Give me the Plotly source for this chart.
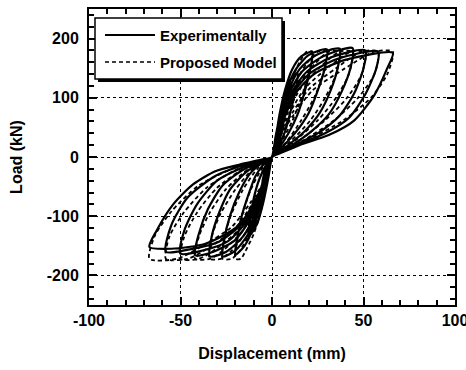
import plotly.graph_objects as go

# ---- Experimental hysteresis (displacement mm, load kN) ----
# Each cycle: loading to + peak, unloading, loading to - peak, unloading.
exp_pos_loading = [
    [(0, 0), (2, 35), (4, 65), (6, 85), (8, 95)],
    [(0, 0), (2, 35), (5, 80), (8, 115), (11, 135), (14, 142)],
    [(0, 0), (2, 30), (4, 70), (7, 112), (11, 148), (16, 170), (22, 178)],
    [(0, 0), (2, 30), (5, 70), (8, 112), (13, 148), (20, 172), (30, 182)],
    [(0, 0), (3, 30), (5, 70), (9, 112), (15, 148), (24, 172), (37, 183)],
    [(0, 0), (3, 30), (6, 70), (10, 112), (17, 146), (28, 170), (44, 184)],
    [(0, 0), (3, 30), (6, 70), (11, 110), (19, 144), (32, 168), (51, 180)],
    [(0, 0), (3, 30), (7, 70), (12, 110), (21, 142), (36, 166), (58, 178)],
    [(0, 0), (3, 28), (7, 68), (13, 108), (23, 140), (40, 164), (66, 176)],
]
exp_pos_unloading = [
    [(8, 95), (7, 70), (5, 40), (3, 18), (0, 0)],
    [(14, 142), (13, 115), (10, 75), (7, 42), (3, 15), (0, 0)],
    [(22, 178), (21, 150), (18, 112), (14, 72), (9, 40), (4, 16), (0, 0)],
    [(30, 182), (29, 152), (25, 112), (20, 74), (13, 42), (6, 18), (0, 0)],
    [(37, 183), (36, 152), (32, 112), (26, 74), (18, 44), (8, 18), (0, 0)],
    [(44, 184), (43, 152), (38, 110), (31, 72), (21, 42), (10, 18), (0, 0)],
    [(51, 180), (50, 150), (45, 108), (37, 70), (26, 42), (12, 19), (0, 0)],
    [(58, 178), (57, 150), (51, 106), (42, 66), (29, 40), (14, 20), (0, 0)],
    [(66, 176), (63, 150), (56, 105), (45, 62), (31, 37), (15, 20), (5, 7), (0, 0)],
]
exp_neg_loading = [
    [(0, 0), (-2, -35), (-4, -65), (-6, -82), (-7, -90)],
    [(0, 0), (-2, -35), (-5, -80), (-8, -112), (-11, -128), (-13, -135)],
    [(0, 0), (-3, -38), (-6, -78), (-10, -118), (-15, -150), (-20, -165)],
    [(0, 0), (-4, -45), (-8, -90), (-13, -130), (-20, -158), (-27, -168)],
    [(0, 0), (-4, -48), (-9, -95), (-16, -135), (-25, -160), (-34, -168)],
    [(0, 0), (-5, -50), (-11, -100), (-20, -140), (-32, -160), (-42, -166)],
    [(0, 0), (-5, -52), (-13, -105), (-24, -142), (-38, -158), (-50, -163)],
    [(0, 0), (-6, -55), (-15, -108), (-29, -143), (-45, -156), (-58, -160)],
    [(0, 0), (-7, -60), (-18, -115), (-36, -146), (-55, -155), (-67, -152)],
]
exp_neg_unloading = [
    [(-7, -90), (-6, -65), (-5, -38), (-3, -15), (0, 0)],
    [(-13, -135), (-12, -105), (-10, -70), (-7, -38), (-3, -12), (0, 0)],
    [(-20, -165), (-19, -140), (-17, -105), (-13, -65), (-9, -32), (-4, -10), (0, 0)],
    [(-27, -168), (-26, -138), (-23, -100), (-18, -60), (-12, -28), (-5, -9), (0, 0)],
    [(-34, -168), (-33, -135), (-29, -95), (-23, -55), (-14, -25), (-5, -8), (0, 0)],
    [(-42, -166), (-40, -130), (-35, -88), (-27, -48), (-16, -22), (-5, -7), (0, 0)],
    [(-50, -163), (-48, -125), (-41, -80), (-30, -40), (-17, -19), (-5, -6), (0, 0)],
    [(-58, -160), (-55, -115), (-46, -68), (-31, -32), (-18, -16), (-5, -5), (0, 0)],
    [(-67, -152), (-63, -124), (-54, -80), (-43, -46), (-31, -24), (-18, -13), (-5, -4), (0, 0)],
]

# ---- Proposed model hysteresis ----
mod_pos_loading = [
    [(0, 0), (3, 40), (6, 85), (10, 125), (15, 160), (19, 178), (22, 178)],
    [(0, 0), (3, 38), (7, 82), (12, 122), (19, 158), (25, 178), (30, 178)],
    [(0, 0), (3, 36), (8, 80), (14, 120), (23, 156), (31, 178), (37, 178)],
    [(0, 0), (4, 35), (9, 78), (16, 118), (27, 154), (37, 178), (44, 178)],
    [(0, 0), (4, 34), (10, 76), (18, 116), (31, 152), (43, 178), (51, 178)],
    [(0, 0), (4, 33), (11, 74), (20, 114), (35, 150), (49, 178), (58, 178)],
    [(0, 0), (4, 32), (12, 72), (22, 112), (39, 148), (56, 178), (66, 178)],
]
mod_pos_unloading = [
    [(22, 178), (20, 140), (16, 100), (11, 60), (5, 25), (0, 0)],
    [(30, 178), (28, 140), (23, 100), (16, 62), (8, 26), (0, 0)],
    [(37, 178), (35, 140), (29, 100), (21, 62), (10, 26), (0, 0)],
    [(44, 178), (42, 140), (35, 100), (25, 62), (12, 26), (0, 0)],
    [(51, 178), (49, 140), (41, 100), (29, 62), (14, 26), (0, 0)],
    [(58, 178), (56, 140), (47, 100), (34, 62), (16, 26), (0, 0)],
    [(66, 178), (63, 140), (54, 100), (39, 62), (18, 26), (0, 0)],
]
mod_neg_loading = [
    [(0, 0), (-3, -45), (-6, -90), (-10, -130), (-15, -162), (-17, -172), (-20, -172)],
    [(0, 0), (-3, -44), (-7, -88), (-12, -128), (-18, -160), (-22, -172), (-27, -172)],
    [(0, 0), (-3, -43), (-8, -86), (-14, -126), (-22, -158), (-28, -172), (-34, -172)],
    [(0, 0), (-4, -42), (-9, -84), (-16, -124), (-26, -156), (-34, -172), (-42, -172)],
    [(0, 0), (-4, -41), (-10, -82), (-18, -122), (-30, -154), (-40, -172), (-50, -172)],
    [(0, 0), (-4, -40), (-11, -80), (-20, -120), (-34, -152), (-46, -172), (-58, -172)],
    [(0, 0), (-4, -39), (-12, -78), (-22, -118), (-38, -150), (-52, -172), (-67, -172)],
]
mod_neg_unloading = [
    [(-20, -172), (-19, -135), (-16, -95), (-12, -58), (-6, -22), (0, 0)],
    [(-27, -172), (-26, -135), (-22, -95), (-16, -56), (-8, -20), (0, 0)],
    [(-34, -172), (-33, -135), (-28, -95), (-20, -55), (-10, -19), (0, 0)],
    [(-42, -172), (-40, -135), (-34, -94), (-25, -54), (-12, -18), (0, 0)],
    [(-50, -172), (-48, -135), (-41, -94), (-30, -52), (-14, -17), (0, 0)],
    [(-58, -172), (-56, -134), (-48, -93), (-35, -50), (-16, -16), (0, 0)],
    [(-67, -172), (-64, -133), (-55, -92), (-40, -48), (-18, -15), (0, 0)],
]

x_tick_vals = [-100, -50, 0, 50, 100]
x_tick_text = ["-100", "-50", "0", "50", "100"]
y_tick_vals = [-200, -100, 0, 100, 200]
y_tick_text = ["-200", "-100", "0", "100", "200"]
legend_labels = ["Experimentally", "Proposed Model"]


def history(*branch_sets):
    """Chain the branches of every cycle into one continuous load path."""
    xs, ys = [], []
    for cycle in zip(*branch_sets):
        for branch in cycle:
            pts = branch if not xs else branch[1:]
            xs.extend(p[0] for p in pts)
            ys.extend(p[1] for p in pts)
    return xs, ys


ex, ey = history(exp_pos_loading, exp_pos_unloading, exp_neg_loading, exp_neg_unloading)
mx, my = history(mod_pos_loading, mod_pos_unloading, mod_neg_loading, mod_neg_unloading)

FONT = "Liberation Sans, Arial, Helvetica, sans-serif"

fig = go.Figure()
fig.add_trace(go.Scatter(
    x=ex, y=ey, mode="lines", name=legend_labels[0],
    line=dict(color="black", width=2.2, shape="spline", smoothing=0.7),
    showlegend=False,
))
fig.add_trace(go.Scatter(
    x=mx, y=my, mode="lines", name=legend_labels[1],
    line=dict(color="black", width=1.8, dash="4px,3px", shape="spline", smoothing=0.7),
    showlegend=False,
))

axis_common = dict(
    showline=True, linecolor="black", linewidth=2, mirror="ticks",
    ticks="inside", ticklen=8, tickwidth=1.6, tickcolor="black",
    showgrid=True, gridcolor="black", gridwidth=1.2, griddash="3px,3px",
    zeroline=False, ticklabeloverflow="allow", automargin=False,
    tickfont=dict(family=FONT, size=16, color="black", weight="bold"),
)

fig.update_xaxes(
    range=[-100, 100], tickvals=x_tick_vals, ticktext=x_tick_text,
    minor=dict(dtick=10, tick0=0, ticks="inside", ticklen=5, tickwidth=1.6,
               tickcolor="black", showgrid=False),
    title=dict(text="Displacement (mm)", standoff=20,
               font=dict(family=FONT, size=16, color="black", weight="bold")),
    **axis_common,
)
fig.update_yaxes(
    range=[-250, 250], tickvals=y_tick_vals, ticktext=y_tick_text,
    ticklabelstandoff=5,
    minor=dict(dtick=20, tick0=0, ticks="inside", ticklen=5, tickwidth=1.6,
               tickcolor="black", showgrid=False),
    title=dict(text="Load (kN)", standoff=20,
               font=dict(family=FONT, size=16, color="black", weight="bold")),
    **axis_common,
)

# Plot area spans x 89..455 px and y 9..305 px of the 466x370 canvas
L, R, T, B = 89, 455, 9, 305


def px(x):
    return (x - L) / (R - L)


def py(y):
    return (B - y) / (B - T)


# Legend box with drop shadow
fig.add_shape(type="rect", xref="paper", yref="paper", layer="above",
              x0=px(98), x1=px(285), y0=py(82), y1=py(21),
              fillcolor="black", line=dict(width=0))
fig.add_shape(type="rect", xref="paper", yref="paper", layer="above",
              x0=px(95), x1=px(282), y0=py(79), y1=py(18),
              fillcolor="white", line=dict(color="black", width=1.5))
fig.add_shape(type="line", xref="paper", yref="paper", layer="above",
              x0=px(105), x1=px(155), y0=py(35), y1=py(35),
              line=dict(color="black", width=2))
fig.add_shape(type="line", xref="paper", yref="paper", layer="above",
              x0=px(105), x1=px(155), y0=py(62), y1=py(62),
              line=dict(color="black", width=1.6, dash="4px,3px"))
for label, yy in zip(legend_labels, [35, 62]):
    fig.add_annotation(xref="paper", yref="paper", x=px(158), y=py(yy),
                       text=label, showarrow=False, xanchor="left", yanchor="middle",
                       font=dict(family=FONT, size=15, color="black", weight="bold"))

fig.update_layout(
    width=466, height=370,
    margin=dict(l=L, r=466 - R, t=T, b=370 - B, autoexpand=False),
    paper_bgcolor="white", plot_bgcolor="white",
)

fig.write_html("out.html")
